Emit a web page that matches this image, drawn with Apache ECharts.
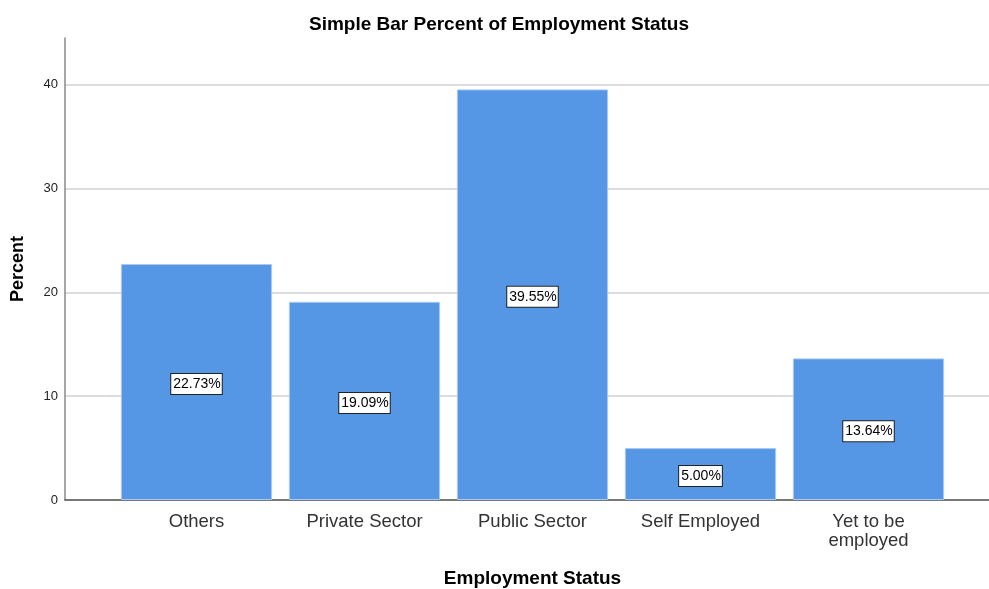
<!DOCTYPE html>
<html>
<head>
<meta charset="utf-8">
<script src="https://cdn.jsdelivr.net/npm/echarts@6/dist/echarts.min.js"></script>
<style>
  html, body { margin: 0; padding: 0; background: #fff; }
  #chart { width: 989px; height: 589px; }
</style>
</head>
<body>
<div id="chart"></div>
<script>
// Employment status categories and their share of respondents (%)
const categories = ['Others', 'Private Sector', 'Public Sector', 'Self Employed', 'Yet to be\nemployed'];
const percents = [22.73, 19.09, 39.55, 5.00, 13.64];
const yTicks = [0, 10, 20, 30, 40];

const FONT = '"Liberation Sans", Arial, sans-serif';
const Y_MAX = 44.5;

const chart = echarts.init(document.getElementById('chart'), null, { renderer: 'canvas' });

chart.setOption({
  backgroundColor: '#ffffff',
  animation: false,
  title: {
    text: 'Simple Bar Percent of Employment Status',
    left: 494,
    top: 10,
    textAlign: 'center',
    textStyle: { fontFamily: FONT, fontSize: 19, fontWeight: 'bold', color: '#000' }
  },
  grid: [
    // frame grid: y axis, gridlines and baseline across the full width
    { left: 65, right: 0, top: 38, bottom: 89, outerBoundsMode: 'none', containLabel: false },
    // bar grid: category bands inset from the frame
    { left: 112.5, right: 36.5, top: 38, bottom: 89, outerBoundsMode: 'none', containLabel: false }
  ],
  xAxis: [
    {
      gridIndex: 0, type: 'value', min: 0, max: 1,
      axisLine: { show: true, lineStyle: { color: '#555', width: 1.5 } },
      axisTick: { show: false }, axisLabel: { show: false }, splitLine: { show: false }
    },
    {
      gridIndex: 1, type: 'category', data: categories,
      axisLine: { show: false }, axisTick: { show: false },
      axisLabel: {
        interval: 0, fontFamily: FONT, fontSize: 18.5, color: '#333', margin: 12, lineHeight: 19
      },
      name: 'Employment Status',
      nameLocation: 'middle',
      nameGap: 69,
      nameTextStyle: { fontFamily: FONT, fontSize: 19, fontWeight: 'bold', color: '#000' }
    }
  ],
  yAxis: [
    {
      gridIndex: 0, type: 'value', min: 0, max: Y_MAX, interval: 10,
      axisLine: { show: true, lineStyle: { color: '#888', width: 1.5 } },
      axisTick: { show: false },
      axisLabel: {
        fontFamily: FONT, fontSize: 13, color: '#222', margin: 7,
        formatter: v => (yTicks.indexOf(v) >= 0 ? String(v) : '')
      },
      splitLine: { show: true, showMaxLine: false, lineStyle: { color: '#d0d0d0', width: 1.5 } },
      name: 'Percent',
      nameLocation: 'middle',
      nameGap: 38,
      nameRotate: 90,
      nameTextStyle: { fontFamily: FONT, fontSize: 18, fontWeight: 'bold', color: '#000' }
    },
    {
      gridIndex: 1, type: 'value', min: 0, max: Y_MAX, interval: 10, show: false
    }
  ],
  series: [
    {
      type: 'bar',
      xAxisIndex: 1,
      yAxisIndex: 1,
      data: percents,
      barCategoryGap: '10%',
      itemStyle: { color: '#5596e5', borderColor: '#a9c9f2', borderWidth: 1 },
      label: {
        show: true,
        position: 'inside',
        offset: [0, 2],
        formatter: p => p.value.toFixed(2) + '%',
        fontFamily: FONT,
        fontSize: 14,
        color: '#000',
        backgroundColor: '#fff',
        borderColor: '#222',
        borderWidth: 1,
        padding: [3, 1, 3, 2]
      }
    }
  ]
});
</script>
</body>
</html>
